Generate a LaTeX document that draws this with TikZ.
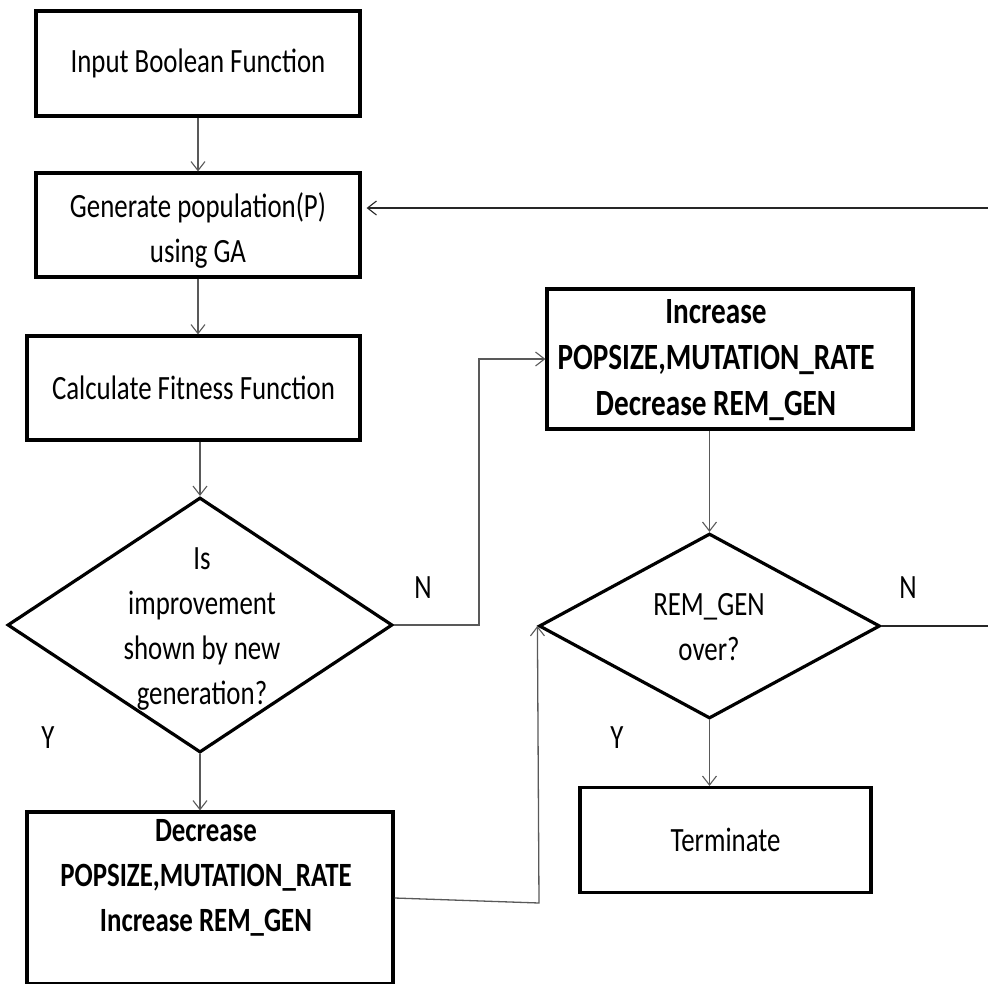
\documentclass[tikz,border=0pt]{standalone}
\usepackage{fontspec}
\setmainfont{Carlito}[FakeStretch=0.79]
\usetikzlibrary{shapes.geometric,arrows.meta}
\begin{document}
\begin{tikzpicture}[x=1pt,y=-1pt,
  box/.style={draw=black,line width=3.2pt,rectangle,inner sep=0pt},
  decision/.style={draw=black,line width=3.2pt,diamond,inner sep=0pt},
  txt/.style={align=center,inner sep=0pt,font=\fontsize{34}{45}\selectfont},
  btxt/.style={align=center,inner sep=0pt,font=\fontsize{34}{45}\selectfont\bfseries},
  flow/.style={draw=black!65,line width=1.3pt,-{Straight Barb[length=9pt,width=14pt,line width=1.1pt]}},
  lbl/.style={inner sep=0pt,font=\fontsize{34}{40}\selectfont}]
\useasboundingbox (0,0) rectangle (988,983);
\clip (0,0) rectangle (988,983);

% process boxes
\node[box,txt,minimum width=324pt,minimum height=105pt] (input) at (198,63.5) {Input Boolean Function};
\node[box,minimum width=324pt,minimum height=104pt] (gen) at (198,225) {};
\node[txt] (gent) at (198,230) {Generate population(P)\\using GA};
\node[box,txt,minimum width=333pt,minimum height=104pt] (calc) at (193.5,388) {Calculate Fitness Function};

% first decision
\node[decision,minimum width=385pt,minimum height=255pt] (d1) at (200,625) {};
\node[txt] (d1t) at (202,629) {Is\\improvement\\shown by new\\generation?};

% adjust parameters after improvement
\node[box,minimum width=366pt,minimum height=172pt] (dec) at (210,898) {};
\node[btxt] (dect) at (206,878) {Decrease\\POPSIZE,MUTATION\_RATE\\Increase REM\_GEN};

% adjust parameters without improvement
\node[box,minimum width=366pt,minimum height=140pt] (inc) at (730,359) {};
\node[btxt,font=\fontsize{37}{46}\selectfont\bfseries] (inct) at (716,360) {Increase\\POPSIZE,MUTATION\_RATE\\Decrease REM\_GEN};

% generation budget check
\node[decision,minimum width=341pt,minimum height=185pt] (d2) at (709.5,626) {};
\node[txt] (d2t) at (709,627) {REM\_GEN\\over?};

\node[box,txt,minimum width=291pt,minimum height=105pt] (term) at (725.5,840) {Terminate};

% branch labels
\node[lbl] (n1l) at (423,588) {N};
\node[lbl] (n2l) at (908,588) {N};
\node[lbl] (y1l) at (48,738) {Y};
\node[lbl] (y2l) at (617,738) {Y};

% connectors
\coordinate (nbend) at (479,625);
\coordinate (ybend) at (539,903);
\coordinate (r1) at (1000,626);
\coordinate (r2) at (1000,208);

\draw[flow] (input.south) -- (gen.north);
\draw[flow] (gen.south) -- (gen.south |- calc.north);
\draw[flow] (d1.north |- calc.south) -- (d1.north);
\draw[flow] (d1.south) -- (d1.south |- dec.north);
\draw[flow] (d1.east) -- (nbend) |- (inc.west);
\draw[flow] (d2.north |- inc.south) -- (d2.north);
\draw[flow] (d2.south) -- (d2.south |- term.north);
\draw[flow] (dec.east) -- (ybend) -- (d2.west);
\draw[flow,draw=black!85,shorten >=5pt] (d2.east) -- (r1) -- (r2) -- (r2 -| gen.east);
\end{tikzpicture}
\end{document}
